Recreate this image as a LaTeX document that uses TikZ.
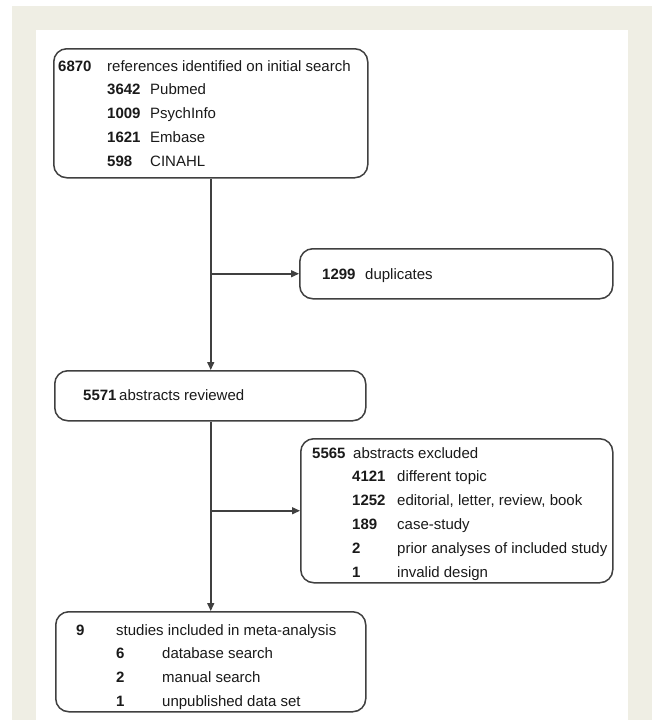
\documentclass[tikz,border=0pt]{standalone}
\usepackage{fontspec}
\setmainfont{Liberation Sans}
\usetikzlibrary{arrows.meta}
\definecolor{framebg}{HTML}{EFEEE4}
\definecolor{linegray}{HTML}{404040}
\definecolor{textcol}{HTML}{1A1A1A}
\begin{document}
\begin{tikzpicture}[x=1pt,y=-1pt,
  box/.style={draw=linegray, line width=1.5pt, rounded corners=13pt, inner sep=0pt, anchor=north west},
  txt/.style={anchor=mid west, inner sep=0pt, text=textcol, font=\fontsize{15}{18}\selectfont},
  num/.style={anchor=mid west, inner sep=0pt, text=textcol, font=\fontsize{15}{18}\selectfont\bfseries},
  arr/.style={draw=linegray, line width=1.5pt, -{Triangle[length=8pt,width=7pt]}},
  ln/.style={draw=linegray, line width=1.5pt}]
\useasboundingbox (0,0) rectangle (655,720);
\fill[framebg] (12,6) rectangle (652,720);
\fill[white] (36,30) rectangle (628,720);

% boxes
\node[box, minimum width=314pt, minimum height=129pt] (b1) at (53,48) {};
\node[box, minimum width=313pt, minimum height=50pt] (b2) at (299,248) {};
\node[box, minimum width=311pt, minimum height=50pt] (b3) at (54,370) {};
\node[box, minimum width=312pt, minimum height=144pt] (b5) at (300,438) {};
\node[box, minimum width=310pt, minimum height=100pt] (b4) at (55,611) {};

% box 1 text
\node[num] (n1) at (58,69) {6870};
\node[txt] (t1) at (107,69) {references identified on initial search};
\node[num] (n1a) at (107,92) {3642};
\node[txt] (t1a) at (150,92) {Pubmed};
\node[num] (n1b) at (107,116) {1009};
\node[txt] (t1b) at (150,116) {PsychInfo};
\node[num] (n1c) at (107,140) {1621};
\node[txt] (t1c) at (150,140) {Embase};
\node[num] (n1d) at (107,164) {598};
\node[txt] (t1d) at (150,164) {CINAHL};

% duplicates
\node[num] (n2) at (322,277) {1299};
\node[txt] (t2) at (365,277) {duplicates};

% reviewed
\node[num] (n3) at (83,398) {5571};
\node[txt] (t3) at (119,398) {abstracts reviewed};

% excluded
\node[num] (n5) at (312,456) {5565};
\node[txt] (t5) at (353,456) {abstracts excluded};
\node[num] (n5a) at (352,479) {4121};
\node[txt] (t5a) at (397,479) {different topic};
\node[num] (n5b) at (352,503) {1252};
\node[txt] (t5b) at (397,503) {editorial, letter, review, book};
\node[num] (n5c) at (352,527) {189};
\node[txt] (t5c) at (397,527) {case-study};
\node[num] (n5d) at (352,551) {2};
\node[txt] (t5d) at (397,551) {prior analyses of included study};
\node[num] (n5e) at (352,575) {1};
\node[txt] (t5e) at (397,575) {invalid design};

% included
\node[num] (n4) at (76,633) {9};
\node[txt] (t4) at (116,633) {studies included in meta-analysis};
\node[num] (n4a) at (116,656) {6};
\node[txt] (t4a) at (162,656) {database search};
\node[num] (n4b) at (116,680) {2};
\node[txt] (t4b) at (162,680) {manual search};
\node[num] (n4c) at (116,704) {1};
\node[txt] (t4c) at (162,704) {unpublished data set};

% connectors
\coordinate (j1) at (b1.south |- b2.west);
\coordinate (j2) at (b1.south |- b5.west);
\draw[arr] (b1.south) -- (b1.south |- b3.north);
\draw[arr] (j1) -- (b2.west);
\draw[arr] (b1.south |- b3.south) -- (b1.south |- b4.north);
\draw[arr] (j2) -- (b5.west);
\end{tikzpicture}
\end{document}
